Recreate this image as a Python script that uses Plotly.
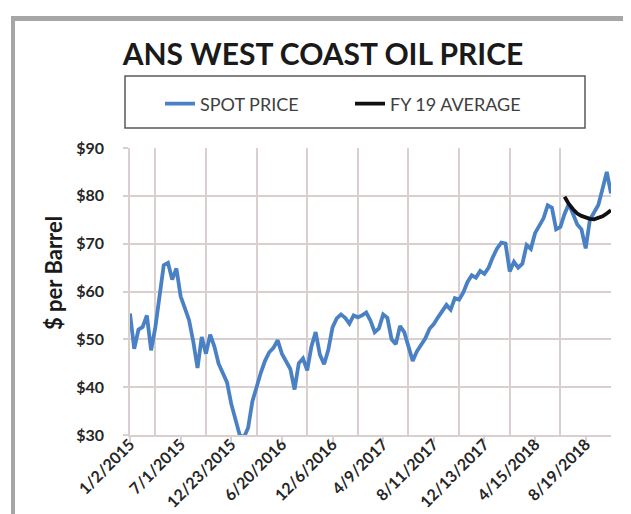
import plotly.graph_objects as go

# ---------------- data ----------------
tick_labels = ["1/2/2015", "7/1/2015", "12/23/2015", "6/20/2016", "12/6/2016",
               "4/9/2017", "8/11/2017", "12/13/2017", "4/15/2018", "8/19/2018"]

spot_price = [
    55.4, 48, 52, 52.6, 55, 47.7, 52.5, 58.5, 65.5, 66,
    62.5, 64.8, 59, 56.5, 54, 49.5, 44, 50.5, 47, 51,
    48.5, 44.9, 42.8, 41, 36.5, 33.1, 30, 29.5, 31.5, 37,
    40.2, 43, 45.5, 47.3, 48.2, 49.8, 47, 45.5, 43.8, 39.5,
    45, 46, 43.5, 48.5, 51.5, 46.8, 44.8, 47.8, 52.5, 54.4,
    55.2, 54.5, 53.3, 55, 54.6, 55, 55.6, 53.9, 51.5, 52.3,
    55.2, 54.5, 50, 49, 52.8, 51.5, 48.3, 45.5, 47.5, 48.8,
    50.2, 52.2, 53.2, 54.6, 56, 57.2, 56.2, 58.6, 58.3, 59.8,
    62, 63.4, 62.9, 64.3, 63.7, 65, 67.2, 69, 70.2, 70,
    64.2, 66.2, 65, 65.8, 69.7, 68.9, 72.2, 73.8, 75.3, 78,
    77.5, 73, 73.5, 76.2, 78.3, 76.2, 74, 73, 69, 75,
    76.6, 78.1, 81.5, 85, 80.5,
]

fy19_start = 103
fy19_average = [79.8, 78.3, 77.2, 76.3, 75.8, 75.4, 75.2, 75.1, 75.3, 75.7, 76.3, 77.0]

points_per_label = 12

# ---------------- figure ----------------
W, H = 631, 514
ML, MR, MT, MB = 122, 28, 140, 87
PW, PH = W - ML - MR, H - MT - MB


def px(xp):
    return (xp - ML) / PW


def py(yp):
    return (H - MB - yp) / PH


x_spot = list(range(len(spot_price)))
x_fy = list(range(fy19_start, fy19_start + len(fy19_average)))

FONT = "Lato"
GRID = "#d9cfcf"

fig = go.Figure()
fig.add_trace(go.Scatter(x=x_spot, y=spot_price, mode="lines", name="SPOT PRICE",
                         line=dict(color="#4A80C4", width=3.8)))
fig.add_trace(go.Scatter(x=x_fy, y=fy19_average, mode="lines", name="FY 19 AVERAGE",
                         line=dict(color="#111111", width=3.8)))

tickvals = [i * points_per_label for i in range(len(tick_labels))]
minor_vals = [v + points_per_label / 2 for v in tickvals[:-1]]

fig.update_layout(
    width=W, height=H,
    margin=dict(l=ML, r=MR, t=MT, b=MB, pad=0, autoexpand=False),
    paper_bgcolor="white", plot_bgcolor="white",
    font=dict(family=FONT, color="#262626"),
    title=dict(text="<b>ANS WEST COAST OIL PRICE</b>", font=dict(family=FONT, size=30, color="#1a1a1a"),
               x=315 / W, xanchor="center", xref="container",
               y=1 - 46 / H, yanchor="middle", yref="container"),
    showlegend=True,
    legend=dict(orientation="h", x=px(152), xanchor="left", y=py(96), yanchor="middle",
                font=dict(family=FONT, size=18, color="#404040"),
                bgcolor="rgba(0,0,0,0)", borderwidth=0, itemwidth=30,
                entrywidth=145, entrywidthmode="pixels"),
    xaxis=dict(range=[0, len(spot_price) - 1], tickmode="array", tickvals=tickvals, ticktext=tick_labels,
               tickangle=-45, tickfont=dict(family=FONT, size=16, color="#262626", weight="bold"),
               ticks="outside", ticklen=5, tickcolor=GRID, tickwidth=1.5, ticklabelstandoff=-13,
               automargin=False,
               showgrid=False, zeroline=False, showline=True, linecolor=GRID, linewidth=1.5,
               minor=dict(tickmode="array", tickvals=minor_vals, showgrid=True,
                          gridcolor=GRID, gridwidth=1.5, ticks="")),
    yaxis=dict(range=[30, 90], dtick=10, tick0=30, tickprefix="$", automargin=False,
               tickfont=dict(family=FONT, size=16, color="#262626", weight="bold"),
               ticks="outside", ticklen=5, tickcolor=GRID, tickwidth=1.5, ticklabelstandoff=16,
               showgrid=True, gridcolor=GRID, gridwidth=1.5, zeroline=False,
               showline=True, linecolor=GRID, linewidth=1.5),
    annotations=[
        dict(text="<b>$ per Barrel</b>", textangle=-90, xref="paper", yref="paper",
             x=px(45), y=py(265), xanchor="center", yanchor="middle", showarrow=False,
             font=dict(family=FONT, size=22, color="#1a1a1a")),
    ],
    shapes=[
        dict(type="rect", xref="paper", yref="paper", x0=px(3), x1=px(W), y0=py(8), y1=py(13),
             fillcolor="#a6a6a6", line=dict(width=0), layer="above"),
        dict(type="rect", xref="paper", yref="paper", x0=px(3), x1=px(7), y0=py(8), y1=py(H),
             fillcolor="#a6a6a6", line=dict(width=0), layer="above"),
        dict(type="rect", xref="paper", yref="paper", x0=px(117), x1=px(577), y0=py(68), y1=py(120),
             fillcolor="rgba(0,0,0,0)", line=dict(color="#595959", width=1.5), layer="above"),
    ],
)

fig.write_html("out.html")
